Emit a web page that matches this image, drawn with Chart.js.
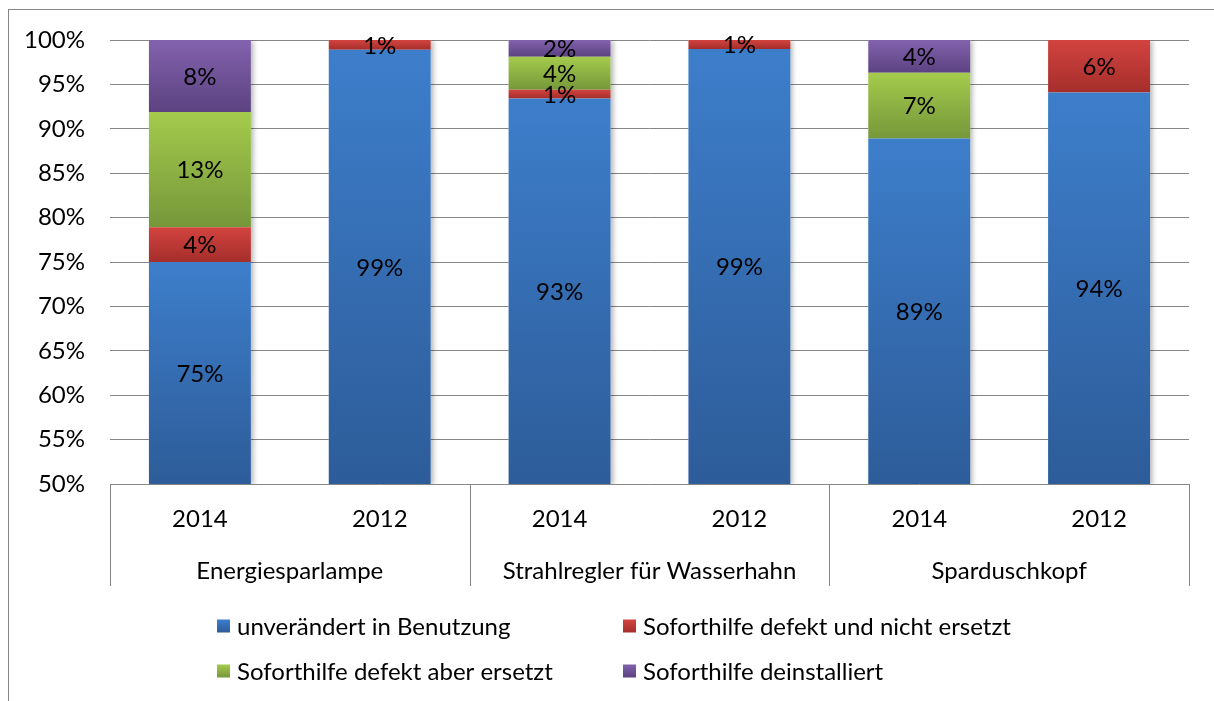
<!DOCTYPE html>
<html>
<head>
<meta charset="utf-8">
<title>Soforthilfe Nutzung</title>
<script src="https://cdn.jsdelivr.net/npm/chart.js@4.4.0/dist/chart.umd.min.js"></script>
<style>
  html, body { margin: 0; padding: 0; background: #fff; overflow: hidden; }
  #wrap { position: absolute; left: 0; top: 0; width: 1214px; height: 701px; }
  #frame { position: absolute; left: 8px; top: 9px; width: 1400px; height: 900px; border: 1px solid #868686; pointer-events: none; }
</style>
</head>
<body>
<div id="wrap"><canvas id="chart"></canvas></div>
<div id="frame"></div>
<script>
const FONT = "Lato, 'Noto Sans', sans-serif";
const FONT_SIZE = 24;
const GRID = '#868686';

// Achsen
const jahre = ['2014', '2012', '2014', '2012', '2014', '2012'];
const gruppen = ['Energiesparlampe', 'Strahlregler für Wasserhahn', 'Sparduschkopf'];
const yMin = 50, yMax = 100, yStep = 5;

// Werte in %
const unveraendert       = [75.0, 98.9, 93.4, 99.0, 88.9, 94.1];
const defektNichtErsetzt = [3.9, 1.1, 1.0, 1.0, 0, 5.9];
const defektErsetzt      = [13.0, 0, 3.7, 0, 7.4, 0];
const deinstalliert      = [8.1, 0, 1.9, 0, 3.7, 0];

const serienNamen = [
  'unverändert in Benutzung',
  'Soforthilfe defekt und nicht ersetzt',
  'Soforthilfe defekt aber ersetzt',
  'Soforthilfe deinstalliert'
];
// Farbverlauf oben -> unten
const farben = [
  ['#3d7ecb', '#2d5c99'],
  ['#d2433f', '#a52e2b'],
  ['#a4cb4c', '#76973a'],
  ['#8262ad', '#5b4280']
];

function verlauf(ctx, s) {
  const chart = ctx.chart;
  const area = chart.chartArea;
  if (!area || ctx.type !== 'data') return farben[s][0];
  const y = chart.scales.y;
  let base = 0;
  for (let d = 0; d < ctx.datasetIndex; d++) base += chart.data.datasets[d].data[ctx.dataIndex];
  const v = chart.data.datasets[ctx.datasetIndex].data[ctx.dataIndex];
  const top = y.getPixelForValue(base + v);
  const bot = Math.min(y.getPixelForValue(base), area.bottom);
  if (!(bot > top)) return farben[s][0];
  const g = chart.ctx.createLinearGradient(0, top, 0, bot);
  g.addColorStop(0, farben[s][0]);
  g.addColorStop(1, farben[s][1]);
  return g;
}

const werte = [unveraendert, defektNichtErsetzt, defektErsetzt, deinstalliert];
const datasets = werte.map((daten, s) => ({
  label: serienNamen[s],
  data: daten,
  backgroundColor: ctx => verlauf(ctx, s),
  borderWidth: 0,
  barPercentage: 0.567,
  categoryPercentage: 1.0
}));

// Schatten, Beschriftungen, Trennlinien
const deko = {
  id: 'deko',
  beforeDatasetsDraw(chart) {
    const ctx = chart.ctx;
    const area = chart.chartArea;
    const metas = chart.data.datasets.map((d, i) => chart.getDatasetMeta(i));
    ctx.save();
    ctx.beginPath();
    ctx.rect(area.left, area.top, area.right - area.left + 10, area.bottom - area.top);
    ctx.clip();
    ctx.shadowColor = 'rgba(0,0,0,0.28)';
    ctx.shadowBlur = 5;
    ctx.shadowOffsetX = 3;
    ctx.shadowOffsetY = 1;
    ctx.fillStyle = '#fff';
    metas[0].data.forEach((bar, j) => {
      let top = bar.y;
      metas.forEach(m => { if (m.data[j].y < top) top = m.data[j].y; });
      const bot = area.bottom;
      ctx.fillRect(bar.x - bar.width / 2, top, bar.width, bot - top);
    });
    ctx.restore();
  },
  afterDatasetsDraw(chart) {
    const ctx = chart.ctx;
    const area = chart.chartArea;
    ctx.save();
    ctx.fillStyle = '#000';
    ctx.font = FONT_SIZE + 'px ' + FONT;
    ctx.textAlign = 'center';
    ctx.textBaseline = 'middle';
    chart.data.datasets.forEach((ds, i) => {
      chart.getDatasetMeta(i).data.forEach((bar, j) => {
        const v = ds.data[j];
        if (!v) return;
        const top = bar.y;
        const bot = Math.min(bar.base, area.bottom);
        ctx.fillText(Math.round(v) + '%', bar.x, (top + bot) / 2 + 1);
      });
    });

    // Trennlinien der Gruppen unter der Achse
    const x = chart.scales.x, x2 = chart.scales.x2;
    ctx.strokeStyle = GRID;
    ctx.lineWidth = 1;
    [-0.5, 1.5, 3.5, 5.5].forEach(v => {
      const px = Math.round(x.getPixelForValue(v)) + 0.5;
      ctx.beginPath();
      ctx.moveTo(px, area.bottom);
      ctx.lineTo(px, x2.bottom);
      ctx.stroke();
    });
    ctx.restore();
  },
  afterDraw(chart) {
    // Legende 2x2
    const ctx = chart.ctx;
    const spalten = [217, 623];
    const zeilen = [626, 671];
    ctx.save();
    ctx.font = FONT_SIZE + 'px ' + FONT;
    ctx.textAlign = 'left';
    ctx.textBaseline = 'middle';
    chart.data.datasets.forEach((ds, i) => {
      const bx = spalten[i % 2];
      const yc = zeilen[Math.floor(i / 2)];
      const g = ctx.createLinearGradient(0, yc - 6.5, 0, yc + 6.5);
      g.addColorStop(0, farben[i][0]);
      g.addColorStop(1, farben[i][1]);
      ctx.fillStyle = g;
      ctx.fillRect(bx, yc - 6.5, 13, 13);
      ctx.fillStyle = '#000';
      ctx.fillText(ds.label, bx + 20, yc + 1);
    });
    ctx.restore();
  }
};

new Chart(document.getElementById('chart'), {
  type: 'bar',
  data: { labels: jahre, datasets: datasets },
  plugins: [deko],
  options: {
    responsive: true,
    maintainAspectRatio: false,
    animation: false,
    layout: { padding: { left: 0, top: 40, right: 25, bottom: 115 } },
    plugins: {
      legend: { display: false },
      tooltip: { enabled: false }
    },
    scales: {
      x: {
        stacked: true,
        grid: { display: false, drawTicks: false },
        border: { display: false },
        ticks: { color: '#000', font: { family: FONT, size: FONT_SIZE }, padding: 21, maxRotation: 0, autoSkip: false },
        afterFit: s => { s.height = 50; }
      },
      x2: {
        type: 'category',
        position: 'bottom',
        labels: gruppen,
        offset: true,
        grid: { display: false, drawTicks: false },
        border: { display: false },
        ticks: { color: '#000', font: { family: FONT, size: FONT_SIZE }, padding: 23, maxRotation: 0, autoSkip: false },
        afterFit: s => { s.height = 52; }
      },
      y: {
        stacked: true,
        min: yMin,
        max: yMax,
        grid: { color: GRID, lineWidth: 1, drawTicks: false },
        border: { display: false },
        ticks: {
          stepSize: yStep,
          color: '#000',
          font: { family: FONT, size: FONT_SIZE },
          padding: 25,
          callback: v => v + '%'
        },
        afterFit: s => { s.width = 110; }
      }
    }
  }
});
</script>
</body>
</html>
